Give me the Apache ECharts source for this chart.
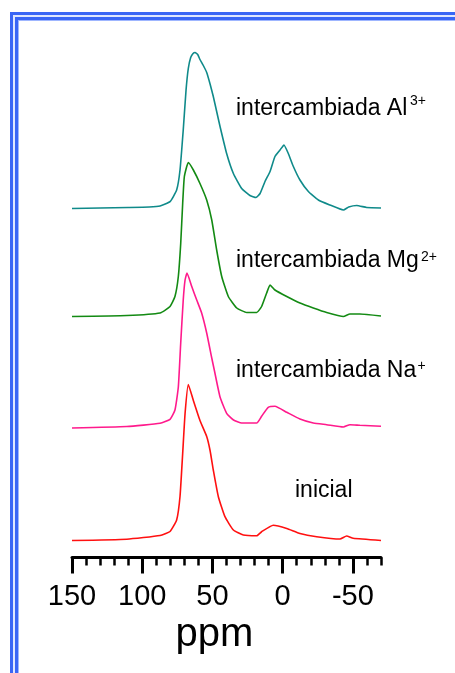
<!DOCTYPE html>
<html>
<head>
<meta charset="utf-8">
<script src="https://cdn.jsdelivr.net/npm/echarts@6/dist/echarts.min.js"></script>
<style>
html,body{margin:0;padding:0;background:#fff;}
#chart{width:455px;height:673px;}
</style>
</head>
<body>
<div id="chart"></div>
<script>
// ---- data (ppm, intensity above each trace's own baseline) ----
const ppmAl = [150,130,110,95,87.3,80.2,75.5,73.1,70.8,68.8,67.2,65.5,63.8,62.4,60.5,58.9,56.5,54.1,51.7,49.4,47,44.6,39.9,35.1,29.2,23.3,19,16.1,12.6,9,5.5,1.9,-0.9,-4,-7.6,-12.3,-18.3,-25.4,-33.7,-43.2,-47,-52.7,-59.8,-70];
const intAl = [0,0.5,1,1.5,2.5,6.8,18.5,38.5,78.5,118.5,140,151,155,156,154,149,143,136,124.5,112,97,82,55,35,20,13,11,15,27,37,52,58.5,63.5,55,42,28.5,17,8.5,3.5,-1.5,1.5,3,1,0.5];

const ppmMg = [150,111,87.3,80.2,76.7,74.3,72.6,71.2,70,67.2,63.6,58.9,54.1,50.5,47,43.4,38.7,32.7,25.6,18.5,15,11.4,9,5.5,-2.9,-12.3,-21.8,-31.3,-43.2,-47.9,-55,-70];
const intMg = [0,1,3.5,10,20,40,73,113,140,154,146.5,133,116.5,96.5,66.5,40,20,8.5,4,4,10,23.5,31.5,26.5,20,13.5,8.5,4,0,2.5,2.5,0.5];

const ppmNa = [150,111,87.3,80.2,76.7,74.3,72.6,70.8,69.5,68.1,64.8,61.2,57.7,54.1,50.5,48.7,44.6,39.9,35,29.2,18.5,15,10.3,5.5,-2.9,-12.3,-21.8,-31.3,-43.2,-47.9,-55,-70];
const intNa = [0,1.5,4.7,8.7,18,41,85,128,148,155,141.7,128,115,95,70,58,31,14.7,8,5,5,11.7,20.7,21.7,15.7,9,5,3.3,1,3.3,2.7,1.7];

const ppmIni = [150,111,87.3,80.2,75.5,73.1,71.2,69.5,67.2,63.6,58.9,54.1,51.7,49.4,45.8,41.1,35.1,28,18.5,15,6.7,-2.9,-12.3,-24.2,-40.8,-45.5,-50.2,-70];
const intIni = [0,1.3,5,9,20.5,44,87,127,156,140,120,104,90,70.5,43.8,23.8,10.5,5.5,4.8,8.8,15.2,12,7,3.8,1.5,4.5,2.2,0];

const seriesNames = ['intercambiada Al', 'intercambiada Mg', 'intercambiada Na', 'inicial'];
const seriesColors = ['#0f8a8a', '#138a13', '#ff1a8c', '#ff1010'];
const majorTicks = [150, 100, 50, 0, -50];
const xMin = -70, xMax = 150;
// vertical stacking offset of each trace (in intensity units above the axis)
const traceOffsets = [349, 241, 129.5, 17];
const ySpan = 540;

const zip = (a, b) => a.map((v, i) => [v, b[i]]);
const traces = [zip(ppmAl, intAl), zip(ppmMg, intMg), zip(ppmNa, intNa), zip(ppmIni, intIni)];

const chart = echarts.init(document.getElementById('chart'), null, {renderer: 'canvas'});
const FONT = 'Liberation Sans, Arial, Helvetica, sans-serif';

const yAxes = traceOffsets.map(o => ({
  type: 'value', gridIndex: 0, show: false, min: -o, max: ySpan - o, splitLine: {show: false}
}));

const series = traces.map((d, i) => ({
  name: seriesNames[i], type: 'line', xAxisIndex: 0, yAxisIndex: i,
  data: d, showSymbol: false, symbol: 'none', smooth: 0.15, clip: false,
  lineStyle: {color: seriesColors[i], width: 1.6}, silent: true, animation: false
}));

function txt(text, x, y, size, extra) {
  return Object.assign({
    type: 'text', x: x, y: y, z: 100,
    style: {text: text, fill: '#000', font: size + 'px ' + FONT, textVerticalAlign: 'middle', verticalAlign: 'middle', align: 'left'}
  }, extra || {});
}
function rect(x, y, w, h, c) {
  return {type: 'rect', shape: {x: x, y: y, width: w, height: h}, style: {fill: c}, z: 90, silent: true};
}

chart.setOption({
  animation: false,
  backgroundColor: '#fff',
  grid: {left: 72, width: 309, bottom: 115.5, height: ySpan, containLabel: false},
  xAxis: [{
    type: 'value', inverse: true, min: xMin, max: xMax, interval: 10, position: 'bottom',
    axisLine: {show: true, onZero: false, lineStyle: {color: '#000', width: 3}},
    axisTick: {show: true, inside: false, length: 8, lineStyle: {color: '#000', width: 2.5}},
    axisLabel: {show: false},
    splitLine: {show: false}
  }, {
    type: 'value', inverse: true, min: xMin, max: xMax, interval: 10, position: 'bottom', offset: 0,
    axisLine: {show: false, onZero: false},
    axisTick: {show: true, inside: false, length: 16, customValues: majorTicks, lineStyle: {color: '#000', width: 3}},
    axisLabel: {show: true, customValues: majorTicks, fontSize: 29, fontFamily: FONT, color: '#000', margin: 25},
    splitLine: {show: false}
  }],
  yAxis: yAxes,
  series: series,
  graphic: [
    rect(10, 12, 3, 661, '#3a66f5'),
    rect(10, 12, 445, 3, '#3a66f5'),
    rect(13, 15, 2, 658, '#dfe7ff'),
    rect(13, 15, 442, 2, '#dfe7ff'),
    rect(15, 17, 3, 656, '#3a66f5'),
    rect(15, 17, 440, 3, '#3a66f5'),
    rect(18, 20, 1, 653, '#9fb6ff'),
    rect(18, 20, 437, 1, '#9fb6ff'),
    txt('intercambiada Al', 236, 108.7, 23),
    txt('3+', 410, 101.2, 14),
    txt('intercambiada Mg', 236, 260.3, 23),
    txt('2+', 421, 256.8, 14),
    txt('intercambiada Na', 236, 370.3, 23),
    txt('+', 417.5, 366, 14),
    txt('inicial', 295, 490.3, 23),
    txt('ppm', 175.5, 635.1, 40)
  ]
});
</script>
</body>
</html>
